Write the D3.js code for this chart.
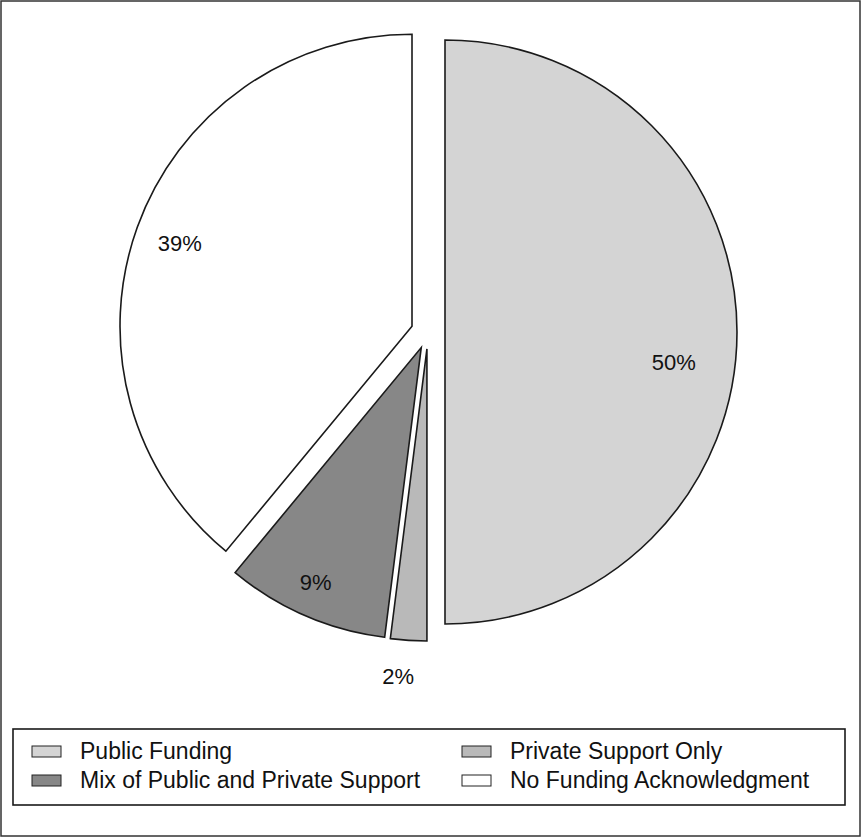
<!DOCTYPE html>
<html>
<head>
<meta charset="utf-8">
<script src="https://cdn.jsdelivr.net/npm/d3@7"></script>
<style>
  html, body { margin: 0; padding: 0; background: #fff; }
  svg { display: block; }
  text { font-family: "Liberation Sans", Arial, Helvetica, sans-serif; fill: #111; }
</style>
</head>
<body>
<svg id="chart" width="862" height="838"></svg>
<script>
const categories = ["Public Funding", "Private Support Only", "Mix of Public and Private Support", "No Funding Acknowledgment"];
const values = [50, 2, 9, 39];
const labels = ["50%", "2%", "9%", "39%"];
const colors = ["#d4d4d4", "#b9b9b9", "#878787", "#ffffff"];
const legendOrder = [0, 1, 2, 3];

const svg = d3.select("#chart");
const W = 862, H = 838;

// outer frame
svg.append("rect").attr("x", 1).attr("y", 1).attr("width", W - 3).attr("height", H - 3)
  .attr("fill", "#fff").attr("stroke", "#333").attr("stroke-width", 1.5);

const cx = 428, cy = 332, R = 292, explode = 17;

const pie = d3.pie().sort(null).value(d => d).startAngle(0).endAngle(2 * Math.PI);
const arcs = pie(values);
const arc = d3.arc().innerRadius(0).outerRadius(R);

const g = svg.append("g").attr("transform", `translate(${cx},${cy})`);

function offset(a) {
  const m = (a.startAngle + a.endAngle) / 2;
  return [Math.sin(m) * explode, -Math.cos(m) * explode];
}

const slices = g.selectAll("g.slice").data(arcs).enter().append("g")
  .attr("class", "slice")
  .attr("transform", d => { const o = offset(d); return `translate(${o[0]},${o[1]})`; });

slices.append("path")
  .attr("d", arc)
  .attr("fill", (d, i) => colors[i])
  .attr("stroke", "#1a1a1a")
  .attr("stroke-width", 1.6)
  .attr("stroke-linejoin", "miter");

// labels (placement factors are layout, not data)
const labelNudge = [0.13, 0.025, 0.015, 0];
const labelRad = [0.79, 1.125, 0.88, 0.845];
slices.append("text")
  .attr("transform", (d, i) => {
    const m = (d.startAngle + d.endAngle) / 2 + labelNudge[i];
    const lr = R * labelRad[i];
    return `translate(${Math.sin(m) * lr},${-Math.cos(m) * lr})`;
  })
  .attr("text-anchor", "middle")
  .attr("dy", "0.36em")
  .attr("font-size", 22)
  .text((d, i) => labels[i]);

// legend
svg.append("rect").attr("x", 13).attr("y", 729).attr("width", 832).attr("height", 76)
  .attr("fill", "#fff").attr("stroke", "#1a1a1a").attr("stroke-width", 1.6);

const colX = [32, 462];
const rowY = [751, 780];
const leg = svg.selectAll("g.leg").data(legendOrder).enter().append("g")
  .attr("class", "leg")
  .attr("transform", (d, k) => `translate(${colX[k % 2]},${rowY[Math.floor(k / 2)]})`);
leg.append("rect").attr("x", 0).attr("y", -5).attr("width", 29).attr("height", 11)
  .attr("fill", d => colors[d]).attr("stroke", "#222").attr("stroke-width", 1);
leg.append("text").attr("x", 48).attr("y", 0).attr("dy", "0.36em")
  .attr("font-size", 23)
  .text(d => categories[d]);
</script>
</body>
</html>
